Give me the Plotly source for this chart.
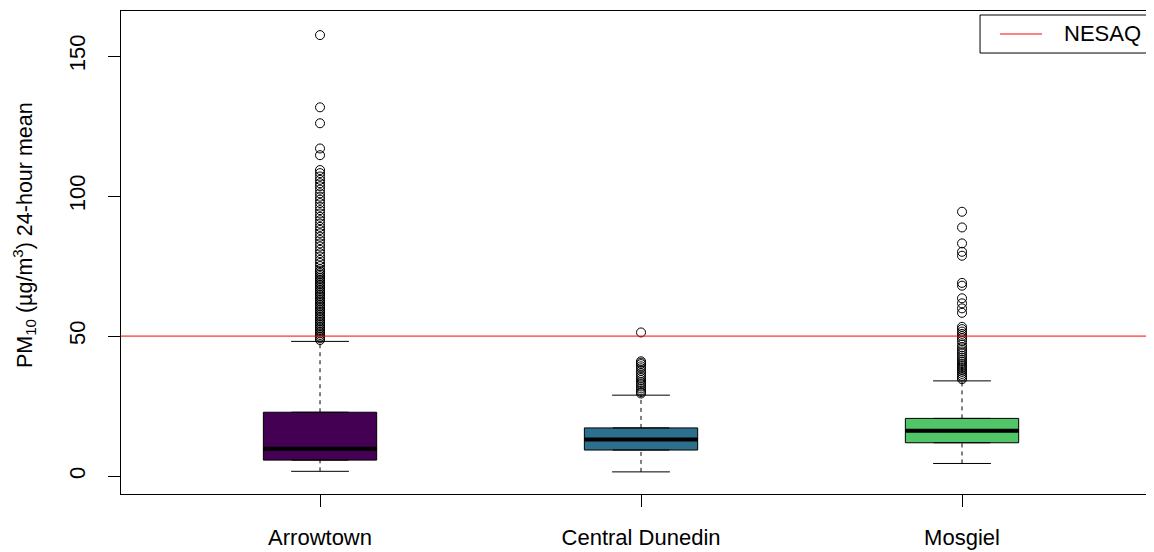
import plotly.graph_objects as go

# site summary stats
sites = ["Arrowtown", "Central Dunedin", "Mosgiel"]
colors = ["#440154", "#2D708E", "#52C569"]
lower_whisker = [1.7, 1.5, 4.5]
q1 = [5.7, 9.3, 11.9]
median = [9.8, 13.1, 16.2]
q3 = [22.8, 17.2, 20.6]
upper_whisker = [48.1, 28.9, 34.0]

# outliers per site
arrowtown_out = [157.5, 131.7, 126.0, 117.0, 114.6, 109.3, 108.2, 107.0, 105.8, 104.6,
                 103.5, 102.3, 101.0, 99.8, 98.7, 97.5, 96.2, 95.0, 93.8, 92.6,
                 91.4, 90.2, 89.0, 87.9, 86.7, 85.5, 84.3, 83.1, 82.0, 80.8,
                 79.6, 78.4, 77.2, 76.1, 75.0, 73.9, 73.2, 72.6, 72.0, 71.4,
                 70.8, 70.2, 69.6, 69.0, 68.4, 67.8, 67.2, 66.6, 66.0, 65.4,
                 64.8, 64.2, 63.6, 63.0, 62.4, 61.8, 61.2, 60.6, 60.0, 59.4,
                 58.8, 58.2, 57.6, 57.0, 56.4, 55.8, 55.2, 54.6, 54.0, 53.4,
                 52.8, 52.2, 51.6, 51.0, 50.4, 49.8, 49.2, 48.6]
dunedin_out = [51.3, 41.0, 40.5, 40.0, 39.2, 38.5, 37.6, 36.7, 35.9, 35.1,
               34.3, 33.5, 32.8, 32.0, 31.3, 30.6, 30.0, 29.5]
mosgiel_out = [94.4, 88.8, 83.1, 80.1, 78.7, 69.0, 68.0, 63.5, 61.7, 59.9,
               58.3, 53.3, 52.5, 51.6, 50.8, 50.0, 49.2, 48.3, 47.0, 46.0,
               45.2, 44.5, 43.8, 43.0, 42.3, 41.5, 40.8, 40.0, 39.3, 38.6,
               37.9, 37.2, 36.5, 35.8, 35.2, 34.6]
outliers = [arrowtown_out, dunedin_out, mosgiel_out]

nesaq = 50
nesaq_label = "NESAQ"
y_title = "PM<sub>10</sub> (µg/m<sup>3</sup>) 24-hour mean"

box_w = 0.353
staple_w = 0.18

fig = go.Figure()

for i, site in enumerate(sites):
    xc = i + 1
    # dashed whiskers
    for a, b in [(lower_whisker[i], q1[i]), (q3[i], upper_whisker[i])]:
        fig.add_trace(go.Scatter(x=[xc, xc], y=[a, b], mode="lines",
                                 line=dict(color="black", width=1, dash="4px,4px"),
                                 showlegend=False, hoverinfo="skip"))
    # staples
    for v in [lower_whisker[i], upper_whisker[i]]:
        fig.add_trace(go.Scatter(x=[xc - staple_w / 2, xc + staple_w / 2], y=[v, v],
                                 mode="lines", line=dict(color="black", width=1),
                                 showlegend=False, hoverinfo="skip"))
    # box
    fig.add_trace(go.Box(x=[xc], q1=[q1[i]], median=[median[i]], q3=[q3[i]],
                         lowerfence=[q1[i]], upperfence=[q3[i]],
                         width=box_w, fillcolor=colors[i],
                         line=dict(color="black", width=1),
                         boxpoints=False, showlegend=False, hoverinfo="skip"))
    # thick median
    fig.add_trace(go.Scatter(x=[xc - box_w / 2, xc + box_w / 2], y=[median[i], median[i]],
                             mode="lines", line=dict(color="black", width=4),
                             showlegend=False, hoverinfo="skip"))
    # outliers
    fig.add_trace(go.Scatter(x=[xc] * len(outliers[i]), y=outliers[i], mode="markers",
                             marker=dict(symbol="circle-open", size=9, color="black",
                                         line=dict(width=1)),
                             showlegend=False, hoverinfo="skip"))

# NESAQ guideline
fig.add_shape(type="line", xref="x domain", x0=0, x1=1, y0=nesaq, y1=nesaq,
              line=dict(color="#FF0000", width=1))

# R-style legend box, top right
fig.add_shape(type="rect", xref="paper", yref="paper", x0=0.8316, x1=0.9942,
              y0=0.9130, y1=0.9917, line=dict(color="black", width=1),
              fillcolor="white")
fig.add_shape(type="line", xref="paper", yref="paper", x0=0.8509, x1=0.8916,
              y0=0.9524, y1=0.9524, line=dict(color="#FF0000", width=1))
fig.add_annotation(text=nesaq_label, xref="paper", yref="paper", x=0.9110, y=0.9524,
                   xanchor="left", yanchor="middle", showarrow=False,
                   font=dict(size=22))

# y axis title
fig.add_annotation(text=y_title, xref="paper", yref="paper", x=-0.094, y=0.536,
                   xanchor="center", yanchor="middle", textangle=-90,
                   showarrow=False, font=dict(size=21.5))

# page body has an 8px margin, so the div starts at (8, 8)
fig.update_layout(
    width=1146, height=544,
    margin=dict(l=113, r=0, t=3, b=58, autoexpand=False),
    paper_bgcolor="white", plot_bgcolor="white",
    font=dict(family="Liberation Sans, Arial", size=22, color="black"),
    showlegend=False,
)
fig.update_xaxes(range=[0.38, 0.38 + 1033 / 321], tickvals=[1, 2, 3], ticktext=sites,
                 showgrid=False, zeroline=False, showline=True, mirror=True,
                 linecolor="black", linewidth=1, ticks="outside", ticklen=12,
                 tickcolor="black", ticklabelstandoff=12)
fig.update_yaxes(range=[-6.4, 166.1], tickvals=[0, 50, 100, 150],
                 showgrid=False, zeroline=False, showline=True,
                 linecolor="black", linewidth=1, ticks="outside", ticklen=12,
                 tickcolor="black", tickangle=-90, ticklabelstandoff=14)

fig.write_html("out.html")
